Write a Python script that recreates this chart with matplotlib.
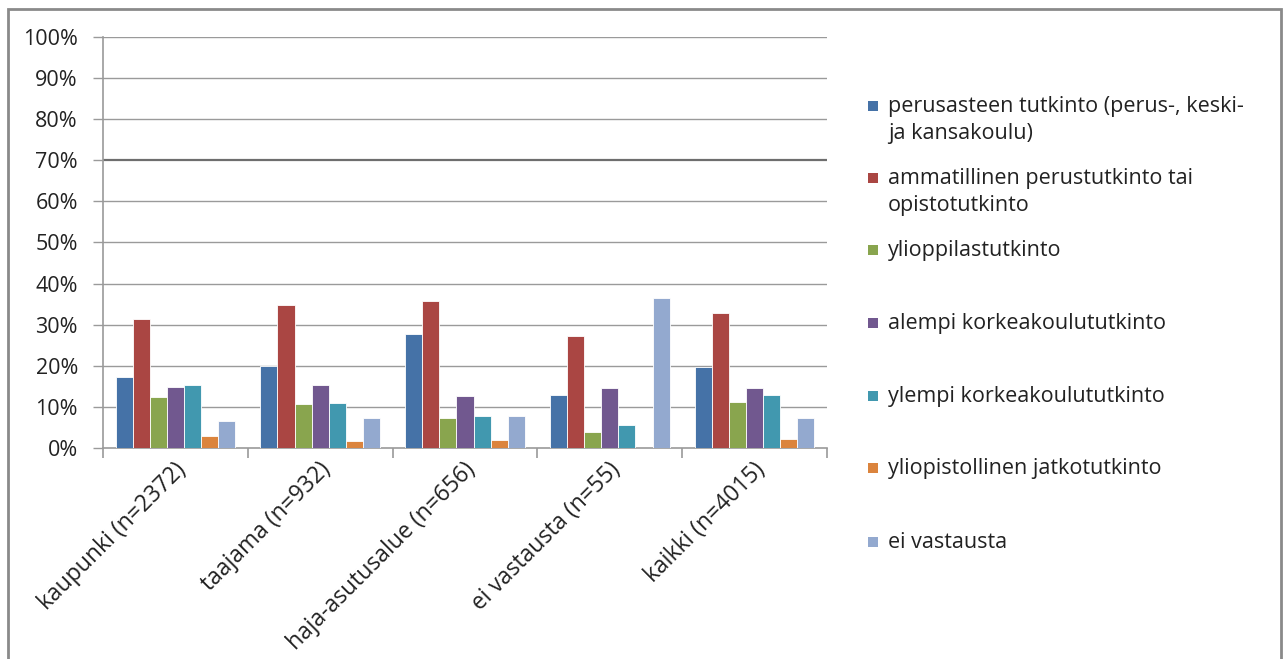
import matplotlib
matplotlib.use('Agg')
from matplotlib import pyplot as plt
from matplotlib.patches import Rectangle
import numpy as np

plt.rcParams['font.family'] = ['Open Sans', 'DejaVu Sans']

# alueet
categories = ['kaupunki (n=2372)', 'taajama (n=932)', 'haja-asutusalue (n=656)',
              'ei vastausta (n=55)', 'kaikki (n=4015)']

# koulutustaso
series_names = ['perusasteen tutkinto (perus-, keski-\nja kansakoulu)',
                'ammatillinen perustutkinto tai\nopistotutkinto',
                'ylioppilastutkinto',
                'alempi korkeakoulututkinto',
                'ylempi korkeakoulututkinto',
                'yliopistollinen jatkotutkinto',
                'ei vastausta']

perusaste = [17.2, 20.0, 27.7, 12.9, 19.7]
ammatillinen = [31.4, 34.9, 35.7, 27.3, 32.8]
ylioppilas = [12.4, 10.7, 7.4, 3.9, 11.2]
alempi_kk = [14.8, 15.3, 12.6, 14.6, 14.6]
ylempi_kk = [15.3, 10.9, 7.8, 5.6, 12.9]
jatkotutkinto = [2.8, 1.7, 2.0, 0.0, 2.3]
ei_vastausta = [6.6, 7.2, 7.8, 36.6, 7.2]

series = [perusaste, ammatillinen, ylioppilas, alempi_kk, ylempi_kk, jatkotutkinto, ei_vastausta]
colors = ['#4572A7', '#AA4643', '#89A54E', '#71588F', '#4198AF', '#DB843D', '#93A9CF']

FS = 15.5
W, H = 1283, 659
fig = plt.figure(figsize=(W / 100, H / 100), dpi=100)
ax = fig.add_axes([103 / W, 1 - 448 / H, (827 - 103) / W, (448 - 37) / H])

x = np.arange(len(categories))
bw = 0.118
for i, (vals, c) in enumerate(zip(series, colors)):
    off = (i - 3) * bw
    ax.bar(x + off, vals, width=bw, color=c, edgecolor='white', linewidth=0.6, zorder=3)

ax.set_xlim(-0.5, len(categories) - 0.5)
ax.set_ylim(0, 100)
ax.set_yticks(range(0, 101, 10))
ax.set_yticklabels(['{}%'.format(v) for v in range(0, 101, 10)], fontsize=FS, color='#222222')

# vaakaviivat
for v in range(10, 101, 10):
    ax.axhline(v, color='#6e6e6e' if v == 70 else '#9a9a9a',
               linewidth=1.6 if v == 70 else 1.0, zorder=1)

for s in ['top', 'right']:
    ax.spines[s].set_visible(False)
for s in ['left', 'bottom']:
    ax.spines[s].set_color('#9a9a9a')
    ax.spines[s].set_linewidth(1.2)

ax.tick_params(axis='y', length=7, color='#9a9a9a', width=1.0, pad=11)
ax.set_xticks(np.arange(-0.5, len(categories)), minor=False)
ax.set_xticklabels([])
ax.tick_params(axis='x', length=7, color='#9a9a9a', width=1.2)

for i, lab in enumerate(categories):
    ax.annotate(lab, xy=(i, 0), xycoords=('data', 'axes fraction'),
                xytext=(-1, -7), textcoords='offset points',
                rotation=45, ha='right', va='top', rotation_mode='anchor',
                fontsize=16.5, color='#222222')

# selite
legend_y = [106, 178, 250, 323, 396, 468, 542]
for name, c, ly in zip(series_names, colors, legend_y):
    fig.patches.append(Rectangle((868 / W, 1 - (ly + 5) / H), 10 / W, 10 / H,
                                 transform=fig.transFigure, facecolor=c, edgecolor='none'))
    fig.text(888 / W, 1 - (ly - 10) / H, name, fontsize=FS, color='#222222',
             va='top', ha='left', linespacing=1.35)

# kaavion reunus
fig.patches.append(Rectangle((8 / W, -0.05), (1281 - 8) / W, 1.05 - 9 / H,
                             transform=fig.transFigure, facecolor='none',
                             edgecolor='#8a8a8a', linewidth=2))

plt.savefig('out.png', dpi=100)
